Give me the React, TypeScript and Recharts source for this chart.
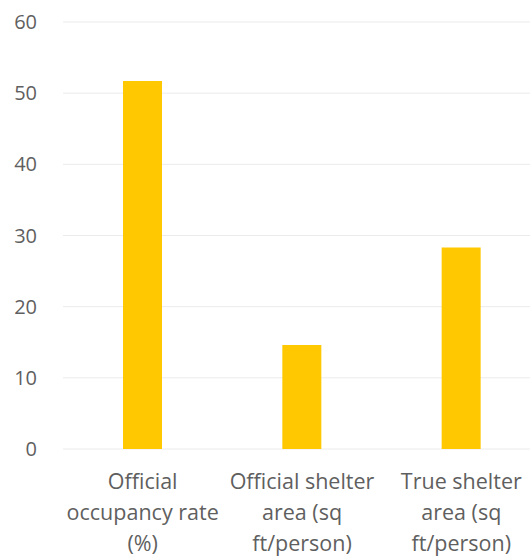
import React from "react";
import { BarChart, Bar, XAxis, YAxis, CartesianGrid } from "recharts";

const categories = [
  "Official\noccupancy rate\n(%)",
  "Official shelter\narea (sq\nft/person)",
  "True shelter\narea (sq\nft/person)",
];
const values = [51.7, 14.6, 28.3];
const yTicks = [0, 10, 20, 30, 40, 50, 60];

const chartData = categories.map((name, i) => ({ name, value: values[i] }));

const FONT = "'Open Sans', Lato, sans-serif";
const TEXT = "#5f5f5f";

const CategoryTick = ({ x, y, payload }: any) => {
  const lines = String(payload.value).split("\n");
  return (
    <text x={x} y={y} textAnchor="middle" fill={TEXT} fontSize={21.5} fontFamily={FONT}>
      {lines.map((line: string, i: number) => (
        <tspan key={i} x={x} dy={i === 0 ? 40 : 31}>
          {line}
        </tspan>
      ))}
    </text>
  );
};

export default function App() {
  return (
    <div
      style={{
        position: "absolute",
        left: 0,
        top: 0,
        width: 530,
        height: 557,
        overflow: "hidden",
        background: "#fff",
      }}
    >
      <BarChart
        width={541}
        height={557}
        data={chartData}
        margin={{ top: 22, right: 0, left: 0, bottom: 8 }}
      >
        <CartesianGrid vertical={false} stroke="#ebebeb" strokeWidth={1} />
        <XAxis
          dataKey="name"
          axisLine={false}
          tickLine={false}
          height={100}
          interval={0}
          tickSize={0}
          tickMargin={0}
          tick={<CategoryTick />}
        />
        <YAxis
          domain={[0, 60]}
          ticks={yTicks}
          width={63}
          axisLine={false}
          tickLine={false}
          tickSize={0}
          tickMargin={26}
          tick={{ fill: TEXT, fontSize: 20, fontFamily: FONT }}
        />
        <Bar dataKey="value" fill="#FFC800" barSize={39} isAnimationActive={false} />
      </BarChart>
    </div>
  );
}
